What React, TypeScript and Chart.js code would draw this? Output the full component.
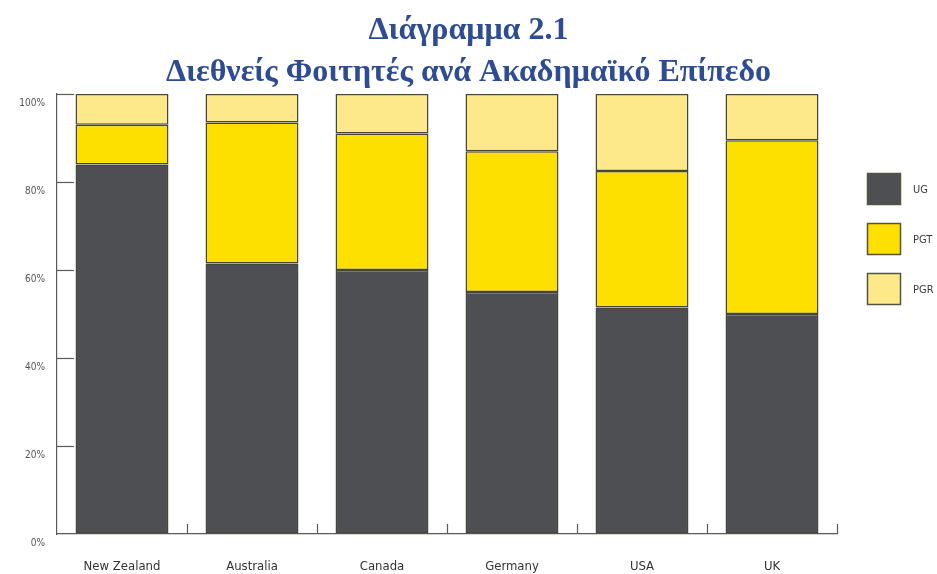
import React, { useEffect, useRef } from "react";
import { Chart, registerables, layouts } from "chart.js";

Chart.register(...registerables);

const categories = ["New Zealand", "Australia", "Canada", "Germany", "USA", "UK"];
const seriesNames = ["UG", "PGT", "PGR"];
const ugValues = [84, 61.5, 60, 55, 51.5, 50];
const pgtValues = [9, 32, 31, 32, 31, 39.5];
const pgrValues = [7, 6.5, 9, 13, 17.5, 10.5];
const yTickValues = [0, 20, 40, 60, 80, 100];
const titleLines = ["Διάγραμμα 2.1", "Διεθνείς Φοιτητές ανά Ακαδημαϊκό Επίπεδο"];

const COLORS = ["#4e4f53", "#fde000", "#fde98a"];
const NARROW = "'Liberation Sans Narrow', 'DejaVu Sans Condensed', 'Liberation Sans', sans-serif";

const legendBoxPlugin = {
  id: "legendBox",
  beforeInit(chart: any) {
    const box: any = {
      position: "right",
      weight: 100,
      fullSize: false,
      options: {},
      left: 0,
      top: 0,
      right: 0,
      bottom: 0,
      width: 0,
      height: 0,
      isHorizontal() {
        return false;
      },
      update(maxWidth: number, maxHeight: number) {
        this.width = 100;
        this.height = maxHeight;
        return { width: 100, height: maxHeight };
      },
      draw() {
        const ctx = chart.ctx;
        const boxX = this.left + 30;
        const boxW = 34;
        const boxH = 32;
        const startY = 173;
        const pitch = 50;
        ctx.save();
        chart.data.datasets.forEach((ds: any, i: number) => {
          const by = startY + i * pitch;
          ctx.fillStyle = ds.backgroundColor;
          ctx.fillRect(boxX, by, boxW, boxH);
          ctx.strokeStyle = "#55553f";
          ctx.lineWidth = 1.5;
          ctx.strokeRect(boxX + 0.5, by + 0.5, boxW - 1, boxH - 1);
          ctx.fillStyle = "#3a3a3a";
          ctx.font = "11px " + NARROW;
          ctx.textAlign = "left";
          ctx.textBaseline = "middle";
          ctx.fillText(ds.label, boxX + 46, by + boxH / 2 + 1);
        });
        ctx.restore();
      },
    };
    layouts.addBox(chart, box);
  },
};

const decorPlugin = {
  id: "decor",
  afterDraw(chart: any) {
    const ctx = chart.ctx;
    const area = chart.chartArea;
    const x = chart.scales.x;
    const y = chart.scales.y;
    ctx.save();
    ctx.strokeStyle = "#5a5a5a";
    ctx.lineWidth = 1.2;
    yTickValues.forEach((v) => {
      if (v === 0) return;
      const py = Math.round(y.getPixelForValue(v)) + 0.5;
      ctx.beginPath();
      ctx.moveTo(area.left, py);
      ctx.lineTo(area.left + 17, py);
      ctx.stroke();
    });
    for (let i = 0; i < categories.length; i++) {
      let px: number;
      if (i < categories.length - 1) {
        px = (x.getPixelForValue(i) + x.getPixelForValue(i + 1)) / 2;
      } else {
        px = area.right;
      }
      px = Math.round(px) + 0.5;
      ctx.beginPath();
      ctx.moveTo(px, area.bottom);
      ctx.lineTo(px, area.bottom - 10);
      ctx.stroke();
    }
    ctx.restore();
  },
};

export default function App() {
  const canvasRef = useRef<HTMLCanvasElement | null>(null);

  useEffect(() => {
    const canvas = canvasRef.current;
    if (!canvas) return;
    const valueSets = [ugValues, pgtValues, pgrValues];
    const chart = new Chart(canvas, {
      type: "bar",
      data: {
        labels: categories,
        datasets: seriesNames.map((name, i) => ({
          label: name,
          data: valueSets[i],
          backgroundColor: COLORS[i],
          borderColor: "#45453a",
          borderWidth: 1.5,
          borderSkipped: false,
          categoryPercentage: 1,
          barPercentage: 0.715,
        })),
      },
      options: {
        animation: false,
        responsive: true,
        maintainAspectRatio: false,
        layout: { padding: 0 },
        plugins: {
          legend: { display: false },
          tooltip: { enabled: false },
          title: {
            display: true,
            text: titleLines,
            color: "#2d4c93",
            font: { family: "'Liberation Serif', 'DejaVu Serif', serif", size: 32, weight: "bold", lineHeight: 1.3125 },
            padding: { top: 10, bottom: 0 },
          },
        },
        scales: {
          x: {
            stacked: true,
            grid: { display: true, drawOnChartArea: false, drawTicks: false },
            border: { display: true, color: "#5a5a5a", width: 1.2 },
            ticks: { color: "#333", font: { family: NARROW, size: 13 }, padding: 25, maxRotation: 0 },
            afterFit: (s: any) => { s.height = 40; },
          },
          y: {
            stacked: true,
            min: 0,
            max: 100,
            grid: { display: true, drawOnChartArea: false, drawTicks: false },
            border: { display: true, color: "#5a5a5a", width: 1.2 },
            ticks: {
              stepSize: 20,
              color: "#555",
              font: { family: NARROW, size: 10 },
              padding: 12,
              labelOffset: 9,
              callback: (v: any) => v + "%",
            },
            afterFit: (s: any) => { s.width = 57; },
          },
        },
      },
      plugins: [legendBoxPlugin, decorPlugin],
    });
    return () => chart.destroy();
  }, []);

  return (
    <div style={{ position: "fixed", left: 0, top: 0, width: 937, height: 574, background: "#fff" }}>
      <canvas ref={canvasRef} />
    </div>
  );
}
